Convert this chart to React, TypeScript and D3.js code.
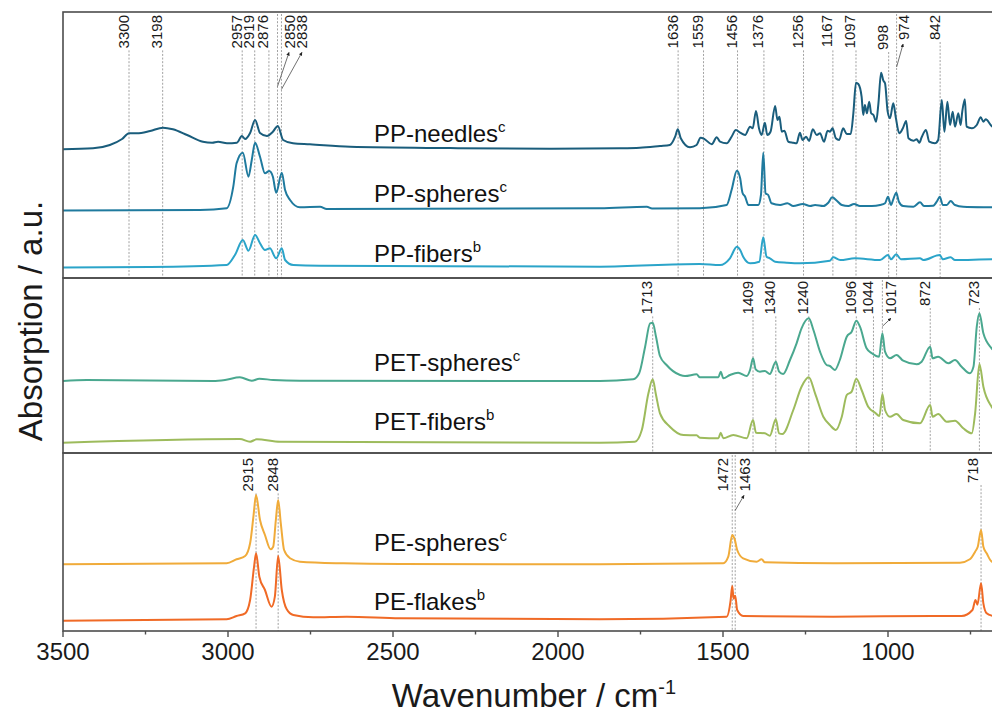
import React from "react";
import * as d3 from "d3";

type Pt = [number, number];

// ---- spectra: [wavenumber (cm-1), absorbance relative to own baseline] ----
const ppNeedles: Pt[] = [
  [3500, 0], [3409, 0.01], [3358, 0.043], [3321, 0.103], [3300, 0.16], [3276, 0.16], [3236, 0.183],
  [3197, 0.216], [3167, 0.2], [3124, 0.143], [3076, 0.076], [3048, 0.066], [3030, 0.076], [3003, 0.06],
  [2973, 0.066], [2958, 0.133], [2948, 0.103], [2933, 0.163], [2918, 0.293], [2903, 0.163], [2882, 0.133],
  [2864, 0.176], [2849, 0.233], [2833, 0.093], [2803, 0.06], [2752, 0.05], [2630, 0.025], [2327, 0.012],
  [2024, 0.005], [1812, 0.01], [1752, 0.015], [1691, 0.033], [1661, 0.043], [1645, 0.126], [1637, 0.2],
  [1628, 0.11], [1600, 0.02], [1580, 0.043], [1568, 0.116], [1555, 0.1], [1534, 0.05], [1519, 0.12],
  [1509, 0.076], [1489, 0.06], [1474, 0.126], [1461, 0.193], [1448, 0.166], [1433, 0.143], [1418, 0.226],
  [1410, 0.21], [1400, 0.383], [1391, 0.21], [1383, 0.143], [1373, 0.266], [1366, 0.143], [1356, 0.176],
  [1342, 0.433], [1335, 0.293], [1329, 0.326], [1322, 0.176], [1314, 0.186], [1302, 0.076], [1287, 0.066],
  [1277, 0.06], [1267, 0.166], [1259, 0.093], [1248, 0.126], [1239, 0.083], [1228, 0.2], [1216, 0.143],
  [1206, 0.16], [1194, 0.076], [1183, 0.186], [1176, 0.176], [1168, 0.21], [1158, 0.11], [1148, 0.093],
  [1136, 0.21], [1125, 0.153], [1113, 0.153], [1105, 0.36], [1097, 0.666], [1090, 0.653], [1080, 0.526],
  [1075, 0.343], [1070, 0.443], [1064, 0.36], [1057, 0.476], [1051, 0.36], [1044, 0.343], [1036, 0.276],
  [1029, 0.46], [1021, 0.766], [1014, 0.686], [1009, 0.66], [1001, 0.376], [994, 0.31], [984, 0.46],
  [976, 0.31], [966, 0.16], [955, 0.21], [945, 0.283], [938, 0.11], [923, 0.086], [913, 0.1], [905, 0.066],
  [898, 0.12], [885, 0.193], [875, 0.076], [858, 0.06], [848, 0.093], [837, 0.493], [829, 0.176],
  [820, 0.476], [812, 0.243], [804, 0.376], [797, 0.226], [787, 0.36], [780, 0.243], [775, 0.376],
  [767, 0.5], [762, 0.226], [746, 0.21], [731, 0.243], [719, 0.32], [711, 0.276], [704, 0.3], [686, 0.233],
  [670, 0.2],
];

const ppSpheres: Pt[] = [
  [3500, 0], [3085, 0.005], [3004, 0.022], [2984, 0.238], [2974, 0.472], [2955, 0.578], [2938, 0.338],
  [2928, 0.505], [2918, 0.678], [2903, 0.538], [2888, 0.372], [2875, 0.395], [2864, 0.338], [2854, 0.178],
  [2837, 0.378], [2827, 0.205], [2812, 0.105], [2782, 0.032], [2721, 0.038], [2701, 0.015], [1873, 0.022],
  [1731, 0.038], [1715, 0.02], [1570, 0.022], [1489, 0.055], [1474, 0.205], [1458, 0.398], [1448, 0.322],
  [1441, 0.178], [1433, 0.138], [1423, 0.055], [1393, 0.055], [1385, 0.155], [1378, 0.578], [1371, 0.172],
  [1363, 0.155], [1353, 0.072], [1327, 0.055], [1305, 0.072], [1287, 0.045], [1258, 0.065], [1236, 0.045],
  [1221, 0.055], [1196, 0.045], [1181, 0.078], [1169, 0.132], [1155, 0.098], [1140, 0.055], [1120, 0.045],
  [1103, 0.065], [1085, 0.045], [1049, 0.045], [1024, 0.055], [1009, 0.072], [1000, 0.138], [991, 0.055],
  [984, 0.112], [975, 0.178], [967, 0.088], [954, 0.045], [923, 0.038], [903, 0.082], [891, 0.045],
  [863, 0.048], [851, 0.095], [843, 0.138], [834, 0.055], [822, 0.055], [810, 0.095], [797, 0.055],
  [772, 0.038], [685, 0.032], [650, 0.03],
];

const ppFibers: Pt[] = [
  [3500, 0], [3236, 0.005], [3004, 0.025], [2979, 0.125], [2955, 0.275], [2938, 0.168], [2918, 0.325],
  [2903, 0.242], [2888, 0.175], [2873, 0.192], [2854, 0.092], [2837, 0.192], [2827, 0.075], [2802, 0.025],
  [2721, 0.018], [1873, 0.008], [1570, 0.035], [1509, 0.025], [1479, 0.092], [1458, 0.208], [1448, 0.175],
  [1438, 0.102], [1418, 0.042], [1390, 0.058], [1378, 0.302], [1368, 0.108], [1358, 0.092], [1342, 0.058],
  [1307, 0.048], [1267, 0.042], [1176, 0.068], [1166, 0.102], [1145, 0.075], [1100, 0.092], [1024, 0.075],
  [1000, 0.125], [991, 0.082], [975, 0.132], [961, 0.082], [903, 0.092], [893, 0.075], [843, 0.125],
  [834, 0.082], [810, 0.102], [797, 0.075], [685, 0.082], [650, 0.08],
];

const petSpheres: Pt[] = [
  [3500, 0], [3428, 0.01], [3045, 0], [3009, 0.01], [2964, 0.037], [2928, 0.003], [2905, 0.023],
  [2863, 0.01], [2782, 0.003], [1873, 0], [1772, 0.017], [1754, 0.077], [1736, 0.343], [1721, 0.577],
  [1713, 0.583], [1703, 0.443], [1691, 0.25], [1671, 0.16], [1630, 0.06], [1615, 0.05], [1580, 0.067],
  [1570, 0.037], [1514, 0.037], [1507, 0.093], [1499, 0.027], [1479, 0.06], [1454, 0.083], [1428, 0.05],
  [1418, 0.11], [1409, 0.227], [1401, 0.117], [1388, 0.093], [1373, 0.1], [1358, 0.07], [1340, 0.193],
  [1330, 0.093], [1318, 0.07], [1297, 0.21], [1277, 0.377], [1262, 0.527], [1240, 0.627], [1226, 0.51],
  [1206, 0.293], [1186, 0.16], [1176, 0.15], [1161, 0.11], [1146, 0.21], [1125, 0.443], [1110, 0.493],
  [1096, 0.603], [1085, 0.543], [1065, 0.327], [1049, 0.277], [1036, 0.25], [1027, 0.243], [1017, 0.477],
  [1009, 0.293], [994, 0.227], [974, 0.26], [954, 0.203], [913, 0.167], [898, 0.193], [872, 0.343],
  [865, 0.227], [848, 0.243], [817, 0.177], [797, 0.21], [777, 0.143], [752, 0.077], [741, 0.143],
  [731, 0.543], [723, 0.677], [711, 0.477], [686, 0.327], [660, 0.25],
];

const petFibers: Pt[] = [
  [3500, 0], [2964, 0.037], [2933, 0.01], [2913, 0.034], [2842, 0.01], [1873, 0], [1767, 0.01],
  [1746, 0.127], [1726, 0.494], [1713, 0.634], [1703, 0.477], [1691, 0.294], [1661, 0.16], [1620, 0.077],
  [1580, 0.074], [1570, 0.05], [1514, 0.044], [1507, 0.1], [1499, 0.044], [1469, 0.077], [1428, 0.044],
  [1409, 0.227], [1400, 0.1], [1373, 0.094], [1358, 0.07], [1340, 0.234], [1330, 0.094], [1320, 0.087],
  [1287, 0.327], [1262, 0.56], [1240, 0.654], [1221, 0.494], [1196, 0.26], [1176, 0.177], [1158, 0.127],
  [1140, 0.26], [1125, 0.477], [1110, 0.51], [1096, 0.64], [1080, 0.527], [1060, 0.36], [1039, 0.3],
  [1026, 0.267], [1017, 0.487], [1009, 0.327], [994, 0.26], [974, 0.287], [954, 0.227], [903, 0.194],
  [872, 0.377], [865, 0.26], [848, 0.287], [822, 0.21], [797, 0.22], [772, 0.144], [746, 0.094],
  [736, 0.294], [723, 0.787], [711, 0.56], [686, 0.36], [660, 0.28],
];

const peSpheres: Pt[] = [
  [3500, 0], [3004, 0.01], [2974, 0.05], [2948, 0.083], [2933, 0.21], [2923, 0.476], [2915, 0.693],
  [2903, 0.443], [2888, 0.293], [2871, 0.15], [2863, 0.176], [2855, 0.443], [2848, 0.643], [2840, 0.41],
  [2830, 0.143], [2812, 0.06], [2782, 0.026], [2651, 0.01], [2479, 0.003], [1873, 0], [1499, 0.01],
  [1484, 0.076], [1472, 0.293], [1464, 0.243], [1457, 0.143], [1439, 0.06], [1398, 0.026], [1383, 0.05],
  [1373, 0.02], [1166, 0.01], [782, 0.016], [752, 0.05], [736, 0.126], [728, 0.176], [718, 0.343],
  [711, 0.176], [701, 0.11], [685, 0.026], [660, 0.01],
];

const peFlakes: Pt[] = [
  [3500, 0], [3004, 0.014], [2974, 0.047], [2948, 0.074], [2933, 0.207], [2921, 0.54], [2915, 0.674],
  [2905, 0.44], [2888, 0.307], [2868, 0.14], [2858, 0.24], [2848, 0.647], [2837, 0.307], [2822, 0.114],
  [2802, 0.057], [2742, 0.034], [2640, 0.04], [2479, 0.024], [1873, 0.014], [1489, 0.04], [1477, 0.2],
  [1472, 0.347], [1468, 0.22], [1463, 0.25], [1457, 0.107], [1439, 0.047], [1166, 0.04], [863, 0.047],
  [777, 0.047], [744, 0.107], [735, 0.207], [729, 0.16], [718, 0.374], [711, 0.174], [701, 0.074],
  [685, 0.05], [660, 0.04],
];

const spectra = [ppNeedles, ppSpheres, ppFibers, petSpheres, petFibers, peSpheres, peFlakes];
const spectrumNames = ["PP-needles", "PP-spheres", "PP-fibers", "PET-spheres", "PET-fibers", "PE-spheres", "PE-flakes"];
const spectrumNotes = ["c", "c", "b", "c", "b", "c", "b"];
const spectrumOffsets = [1.287, 0.675, 0.105, 0.72, 0.103, 0.667, 0.103];

// band positions marked in each panel (cm-1)
const ppBands = [3300, 3198, 2957, 2919, 2876, 2850, 2838, 1636, 1559, 1456, 1376, 1256, 1167, 1097, 998, 974, 842];
const petBands = [1713, 1409, 1340, 1240, 1096, 1044, 1017, 872, 723];
const peBands = [2915, 2848, 1472, 1463, 718];

const xTicks = [3500, 3000, 2500, 2000, 1500, 1000];
const xMinorTicks = [3250, 2750, 2250, 1750, 1250, 750];

// ---- layout & style ----
const W = 992;
const H = 715;
const X0 = 63;
const PX_PER_CM = 0.33;
const X_MIN = 650;
const FONT = "'Liberation Sans', Arial, Helvetica, sans-serif";
const COLORS = ["#1a5d7c", "#1f7a9e", "#2ba4c9", "#4aa88f", "#9dbb5c", "#f0ab3a", "#f06a26"];
const LABEL_Y = [141.7, 201.7, 261.7, 370.7, 429.7, 550.7, 609.7];
const LABEL_X = 374;

const PANELS = [
  { top: 12, bottom: 278, series: [0, 1, 2], bands: ppBands, textTop: 15 },
  { top: 278, bottom: 453, series: [3, 4], bands: petBands, textTop: 281 },
  { top: 453, bottom: 631, series: [5, 6], bands: peBands, textTop: 458 },
];

// label nudges: dx = shift of text baseline from its band line, dy = shift of text top,
// arrow = distance below the text where the leader line meets the band line
const BAND_LABEL_TWEAKS: Record<number, { dx?: number; dy?: number; arrow?: number }> = {
  2850: { dx: 17.5, arrow: 38 },
  2838: { dx: 26.5, arrow: 41 },
  974: { dx: 12.5, arrow: 27 },
  998: { dy: 10 },
  1017: { dx: 14.5, arrow: 12 },
  1463: { dx: 14.8, arrow: 19 },
  1472: { dx: -4 },
  2915: { dx: -2.5 },
  718: { dx: -2.5 },
};

const BAND_FONT = 15;
const DIGIT_W = 0.556 * BAND_FONT;

export default function App() {
  const x = d3.scaleLinear().domain([3500, X_MIN]).range([X0, X0 + (3500 - X_MIN) * PX_PER_CM]);
  const xRight = x(X_MIN);

  return (
    <svg
      width={W}
      height={H}
      viewBox={`0 0 ${W} ${H}`}
      style={{ position: "absolute", left: 0, top: 0, background: "#fff" }}
      fontFamily={FONT}
    >
      <defs>
        <marker id="arrowhead" viewBox="0 0 10 10" refX="9" refY="5" markerWidth="5" markerHeight="5" orient="auto">
          <path d="M0,0 L10,5 L0,10 z" fill="#222" />
        </marker>
        <clipPath id="plotclip">
          <rect x={X0} y={0} width={xRight - X0} height={H} />
        </clipPath>
      </defs>

      {PANELS.map((p, pi) => {
        const y = d3
          .scaleLinear()
          .domain([0, (p.bottom - p.top) / 100])
          .range([p.bottom, p.top]);
        const line = d3
          .line<Pt>()
          .x((d) => x(d[0]))
          .y((d) => y(d[1]))
          .curve(d3.curveMonotoneX);

        return (
          <g key={pi}>
            {/* band markers */}
            {p.bands.map((b) => {
              const tw = BAND_LABEL_TWEAKS[b] || {};
              const lx = x(b);
              const tTop = p.textTop + (tw.dy || 0);
              const tLen = String(b).length * DIGIT_W;
              const tBottom = tTop + tLen;
              const tx = lx - 0.5 + (tw.dx || 0);
              const lineTop = tw.arrow !== undefined || b === 1472 ? p.top + 2 : tBottom + 2;
              return (
                <g key={b}>
                  <line
                    x1={lx}
                    x2={lx}
                    y1={lineTop}
                    y2={p.bottom}
                    stroke="#8a8a8a"
                    strokeWidth={0.8}
                    strokeDasharray="2,1.6"
                  />
                  {tw.arrow !== undefined && (
                    <line
                      x1={lx}
                      y1={tBottom + tw.arrow}
                      x2={tx - 5.5}
                      y2={tBottom + 4}
                      stroke="#333"
                      strokeWidth={0.7}
                      markerEnd="url(#arrowhead)"
                    />
                  )}
                  <text
                    transform={`translate(${tx},${tTop}) rotate(-90)`}
                    textAnchor="end"
                    fontSize={BAND_FONT}
                    fill="#1a1a1a"
                  >
                    {b}
                  </text>
                </g>
              );
            })}

            {/* spectra */}
            <g clipPath="url(#plotclip)">
              {p.series.map((si) => {
                const off = spectrumOffsets[si];
                const pts: Pt[] = spectra[si].map((d) => [d[0], d[1] + off]);
                return (
                  <path
                    key={si}
                    d={line(pts) || ""}
                    fill="none"
                    stroke={COLORS[si]}
                    strokeWidth={2}
                    strokeLinejoin="round"
                  />
                );
              })}
            </g>

            {/* series names */}
            {p.series.map((si) => (
              <text key={"n" + si} x={LABEL_X} y={LABEL_Y[si]} fontSize={24} fill="#111">
                {spectrumNames[si]}
                <tspan dy={-10} fontSize={15}>
                  {spectrumNotes[si]}
                </tspan>
              </text>
            ))}

            {/* panel frame */}
            <rect
              x={X0}
              y={p.top}
              width={xRight - X0}
              height={p.bottom - p.top}
              fill="none"
              stroke="#4d4d4d"
              strokeWidth={1.6}
            />
          </g>
        );
      })}

      {/* x axis ticks */}
      {xTicks.map((t) => (
        <g key={t}>
          <line x1={x(t)} x2={x(t)} y1={631} y2={637} stroke="#4d4d4d" strokeWidth={1.4} />
          <text x={x(t)} y={660} textAnchor="middle" fontSize={24} fill="#1a1a1a">
            {t}
          </text>
        </g>
      ))}
      {xMinorTicks.map((t) => (
        <line key={t} x1={x(t)} x2={x(t)} y1={631} y2={634.5} stroke="#4d4d4d" strokeWidth={1.4} />
      ))}

      {/* axis titles */}
      <text x={534} y={707} textAnchor="middle" fontSize={33} fill="#1a1a1a">
        Wavenumber / cm
        <tspan dy={-13} fontSize={20}>
          -1
        </tspan>
      </text>
      <text transform="translate(42,321) rotate(-90)" textAnchor="middle" fontSize={33} fill="#1a1a1a">
        Absorption / a.u.
      </text>
    </svg>
  );
}
